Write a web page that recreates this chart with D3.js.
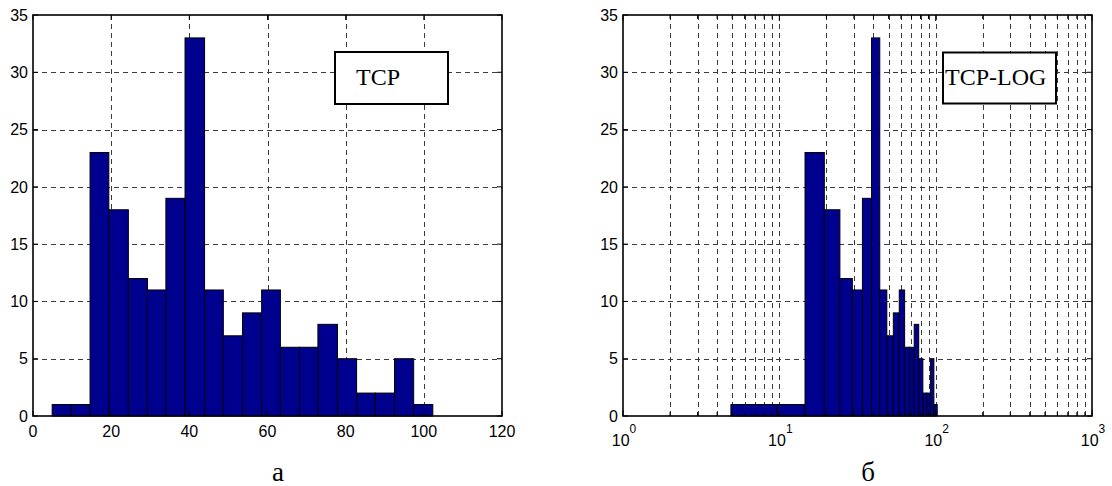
<!DOCTYPE html>
<html><head><meta charset="utf-8">
<script src="https://cdn.jsdelivr.net/npm/d3@7"></script>
<style>body{margin:0;background:#fff} svg{display:block}</style>
</head><body>
<svg id="chart" width="1112" height="486"></svg>
<script>
// ---- data ----
const binEdges = [4.9, 9.7, 14.6, 19.4, 24.4, 29.3, 34.0, 38.9, 43.9, 48.7, 53.6,
                  58.5, 63.3, 68.2, 72.9, 77.9, 82.8, 87.6, 92.5, 97.4, 102.3];
const counts = [1, 1, 23, 18, 12, 11, 19, 33, 11, 7, 9, 11, 6, 6, 8, 5, 2, 2, 5, 1];
const yTicks = [0, 5, 10, 15, 20, 25, 30, 35];
const xTicksLin = [0, 20, 40, 60, 80, 100, 120];
const xTicksLog = [1, 10, 100, 1000];
const legendLabels = ["TCP", "TCP-LOG"];
const panelLabels = ["а", "б"];

const bins = counts.map((c, i) => ({x0: binEdges[i], x1: binEdges[i + 1], n: c}));

const svg = d3.select("#chart");
const W = 469, H = 401;
const BAR = "#00008F";
const GRID = "#3a3a3a";

const panels = [
  {left: 33, top: 15, x: d3.scaleLinear().domain([0, 120]).range([0, W]), log: false,
   legend: {x: 302, y: 37, w: 113, h: 52, tx: 323}, label: panelLabels[0], labelX: 278, text: legendLabels[0]},
  {left: 623, top: 15, x: d3.scaleLog().domain([1, 1000]).range([0, W]), log: true,
   legend: {x: 320, y: 37.5, w: 113, h: 51, tx: 322}, label: panelLabels[1], labelX: 868, text: legendLabels[1]}
];

const y = d3.scaleLinear().domain([0, 35]).range([H, 0]);

panels.forEach(p => {
  const g = svg.append("g").attr("transform", `translate(${p.left},${p.top})`);
  const x = p.x;

  // grid
  const vGrid = p.log ? x.ticks().filter(v => v > 1 && v < 1000) : xTicksLin.filter(v => v > 0 && v < 120);
  g.append("g").selectAll("line").data(vGrid).join("line")
    .attr("x1", d => Math.round(x(d)) + 0.5).attr("x2", d => Math.round(x(d)) + 0.5)
    .attr("y1", 0).attr("y2", H)
    .attr("stroke", GRID).attr("stroke-width", 1).attr("stroke-dasharray", "5,4");
  g.append("g").selectAll("line").data(yTicks.filter(v => v > 0 && v < 35)).join("line")
    .attr("x1", 0).attr("x2", W)
    .attr("y1", d => Math.round(y(d)) + 0.5).attr("y2", d => Math.round(y(d)) + 0.5)
    .attr("stroke", GRID).attr("stroke-width", 1).attr("stroke-dasharray", "5,4");

  // bars
  g.append("g").selectAll("rect").data(bins).join("rect")
    .attr("x", d => x(d.x0)).attr("width", d => x(d.x1) - x(d.x0))
    .attr("y", d => y(d.n)).attr("height", d => y(0) - y(d.n))
    .attr("fill", BAR).attr("stroke", "#000").attr("stroke-width", 1);

  // ticks inside (all four sides)
  const tickVals = p.log ? x.ticks() : xTicksLin;
  const tlen = d => p.log ? (xTicksLog.includes(d) ? 6 : 4) : 5;
  g.append("g").selectAll("line").data(tickVals).join("line")
    .attr("x1", d => x(d)).attr("x2", d => x(d)).attr("y1", H).attr("y2", d => H - tlen(d))
    .attr("stroke", "#000");
  g.append("g").selectAll("line").data(tickVals).join("line")
    .attr("x1", d => x(d)).attr("x2", d => x(d)).attr("y1", 0).attr("y2", d => tlen(d))
    .attr("stroke", "#000");
  g.append("g").selectAll("line").data(yTicks).join("line")
    .attr("x1", 0).attr("x2", 5).attr("y1", d => y(d)).attr("y2", d => y(d)).attr("stroke", "#000");
  g.append("g").selectAll("line").data(yTicks).join("line")
    .attr("x1", W).attr("x2", W - 5).attr("y1", d => y(d)).attr("y2", d => y(d)).attr("stroke", "#000");

  // box
  g.append("rect").attr("x", 0).attr("y", 0).attr("width", W).attr("height", H)
    .attr("fill", "none").attr("stroke", "#000").attr("stroke-width", 1.6);

  // y labels
  g.append("g").selectAll("text").data(yTicks).join("text")
    .attr("x", -5).attr("y", d => y(d)).attr("dy", "0.36em")
    .attr("text-anchor", "end")
    .attr("font-family", "Liberation Sans, Arial, sans-serif").attr("font-size", 16)
    .text(d => d);

  // x labels
  if (!p.log) {
    g.append("g").selectAll("text").data(xTicksLin).join("text")
      .attr("x", d => x(d)).attr("y", H + 21)
      .attr("text-anchor", "middle")
      .attr("font-family", "Liberation Sans, Arial, sans-serif").attr("font-size", 16)
      .text(d => d);
  } else {
    const t = g.append("g").selectAll("text").data(xTicksLog).join("text")
      .attr("x", d => x(d) + 1).attr("y", H + 30)
      .attr("text-anchor", "middle")
      .attr("font-family", "Liberation Sans, Arial, sans-serif").attr("font-size", 16);
    t.append("tspan").text("10");
    t.append("tspan").attr("dy", -13).attr("font-size", 12).text(d => Math.round(Math.log10(d)));
  }

  // legend box
  const L = p.legend;
  g.append("rect").attr("x", L.x).attr("y", L.y).attr("width", L.w).attr("height", L.h)
    .attr("fill", "#fff").attr("stroke", "#000").attr("stroke-width", 2);
  g.append("text").attr("x", L.tx).attr("y", 70)
    .attr("font-family", "Liberation Serif, Times New Roman, serif").attr("font-size", 24)
    .text(p.text);

  // panel label
  svg.append("text").attr("x", p.labelX).attr("y", 481)
    .attr("text-anchor", "middle")
    .attr("font-family", "Liberation Serif, Times New Roman, serif").attr("font-size", 27)
    .text(p.label);
});
</script>
</body></html>
